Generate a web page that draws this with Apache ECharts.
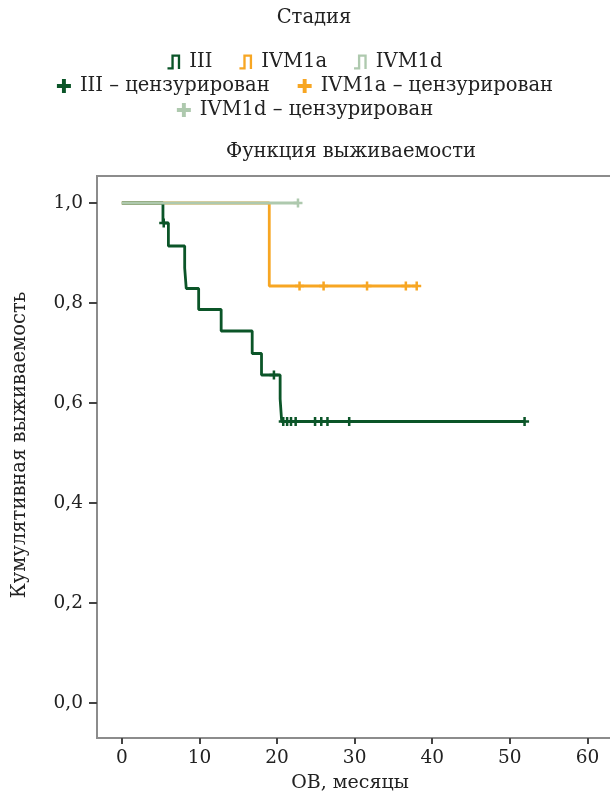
<!DOCTYPE html>
<html>
<head>
<meta charset="UTF-8">
<script src="https://cdn.jsdelivr.net/npm/echarts@6/dist/echarts.min.js"></script>
<style>
  html, body { margin: 0; padding: 0; width: 100%; height: 100%; background: #fff; }
  #main { width: 610px; height: 796px; }
</style>
</head>
<body>
<div id="main"></div>
<script>
// tick labels
const xTicks = [0, 10, 20, 30, 40, 50, 60];
const yTicks = [0, 0.2, 0.4, 0.6, 0.8, 1.0];

// Kaplan-Meier steps per stage (time in months, survival after that time)
const stage3Time = [0, 5.3, 6.0, 8.1, 8.3, 9.9, 12.8, 16.8, 18.0, 20.4, 20.6, 51.9];
const stage3Surv = [1, 0.96, 0.914, 0.870, 0.829, 0.787, 0.744, 0.699, 0.656, 0.608, 0.563, 0.563];
const stage3Cens = [5.4, 19.6, 20.8, 21.3, 21.8, 22.4, 24.9, 25.7, 26.5, 29.3, 51.9];

const m1aTime = [0, 19.0, 38.0];
const m1aSurv = [1, 0.834, 0.834];
const m1aCens = [22.9, 26.0, 31.6, 36.6, 38.0];

const m1dTime = [0, 22.7];
const m1dSurv = [1, 1];
const m1dCens = [22.7];

const colors = { III: '#0b5528', IVM1a: '#f7a623', IVM1d: '#aec9ae' };
const font = '"DejaVu Serif", "Liberation Serif", serif';
const plus = 'path://M3.6,0 H6.4 V3.6 H10 V6.4 H6.4 V10 H3.6 V6.4 H0 V3.6 H3.6 Z';
const stepIcon = 'path://M0,13 H4 V0 H13 V15 H10.6 V2.4 H6.4 V15.4 H0 Z';

function steps(t, s) { return t.map((v, i) => [v, s[i]]); }
function survAt(t, s, x) {
  let v = s[0];
  for (let i = 0; i < t.length; i++) if (t[i] <= x) v = s[i];
  return v;
}
function cens(t, s, c) { return c.map(x => [x, survAt(t, s, x)]); }

function lineSeries(name, t, s, z) {
  return { name, type: 'line', step: 'end', data: steps(t, s), symbol: 'none', z,
    lineStyle: { color: colors[name], width: 2.8 }, itemStyle: { color: colors[name] } };
}
function censSeries(key, t, s, c, z) {
  return { name: key + ' – цензурирован', type: 'scatter', data: cens(t, s, c), symbol: plus,
    symbolSize: 9, z, itemStyle: { color: colors[key], opacity: 1 } };
}

const legendText = { fontFamily: font, fontSize: 19.5, color: '#222', padding: [0, 0, 0, 4] };

const option = {
  animation: false,
  textStyle: { fontFamily: font },
  grid: { left: 97, top: 176, width: 540, height: 562, outerBoundsMode: 'none',
    show: true, borderColor: '#8c8c8c', borderWidth: 2 },
  legend: [
    { top: 47, left: 'center', data: ['III', 'IVM1a', 'IVM1d'], icon: stepIcon, itemWidth: 13, itemHeight: 15,
      itemGap: 27, textStyle: legendText },
    { top: 71, left: 'center', data: ['III – цензурирован', 'IVM1a – цензурирован'], icon: plus,
      itemWidth: 14, itemHeight: 14, itemGap: 28, textStyle: legendText },
    { top: 95, left: 'center', data: ['IVM1d – цензурирован'], icon: plus,
      itemWidth: 14, itemHeight: 14, itemGap: 28, textStyle: legendText }
  ],
  xAxis: {
    type: 'value', min: -3.2, max: -3.2 + 540 / 7.76,
    splitLine: { show: false },
    axisLine: { show: true, onZero: false, lineStyle: { color: '#8c8c8c', width: 2 } },
    axisTick: { show: true, length: 6, customValues: xTicks, lineStyle: { color: '#444', width: 2 } },
    axisLabel: { customValues: xTicks, margin: 11, fontSize: 18.5, color: '#222', fontFamily: font }
  },
  yAxis: {
    type: 'value', min: -0.07, max: 1.054,
    splitLine: { show: false },
    axisLine: { show: true, onZero: false, lineStyle: { color: '#8c8c8c', width: 2 } },
    axisTick: { show: true, length: 8, customValues: yTicks, lineStyle: { color: '#444', width: 2 } },
    axisLabel: { customValues: yTicks, margin: 14, fontSize: 18.5, color: '#222', fontFamily: font,
      formatter: v => v.toFixed(1).replace('.', ',') }
  },
  graphic: [
    { type: 'text', x: 314, y: 18, style: { text: 'Стадия', font: '19.5px ' + font, fill: '#222', textAlign: 'center', textVerticalAlign: 'middle' } },
    { type: 'text', x: 351, y: 152, style: { text: 'Функция выживаемости', font: '19.5px ' + font, fill: '#222', textAlign: 'center', textVerticalAlign: 'middle' } },
    { type: 'text', x: 350, y: 783, style: { text: 'ОВ, месяцы', font: '19px ' + font, fill: '#222', textAlign: 'center', textVerticalAlign: 'middle' } },
    { type: 'text', x: 20, y: 445, rotation: Math.PI / 2, style: { text: 'Кумулятивная выживаемость', font: '19.5px ' + font, fill: '#222', textAlign: 'center', textVerticalAlign: 'middle' } }
  ],
  series: [
    lineSeries('IVM1a', m1aTime, m1aSurv, 2),
    lineSeries('III', stage3Time, stage3Surv, 3),
    lineSeries('IVM1d', m1dTime, m1dSurv, 4),
    censSeries('IVM1a', m1aTime, m1aSurv, m1aCens, 5),
    censSeries('III', stage3Time, stage3Surv, stage3Cens, 5),
    censSeries('IVM1d', m1dTime, m1dSurv, m1dCens, 6)
  ]
};

const chart = echarts.init(document.getElementById('main'));
chart.setOption(option);
</script>
</body>
</html>
